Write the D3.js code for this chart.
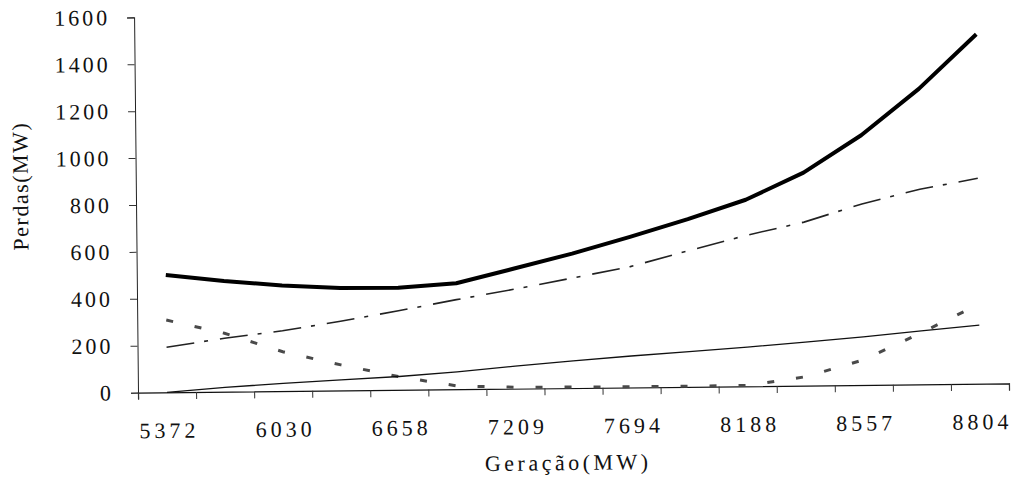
<!DOCTYPE html>
<html>
<head>
<meta charset="utf-8">
<script src="https://cdn.jsdelivr.net/npm/d3@7"></script>
<style>
  html, body { margin: 0; padding: 0; background: #fff; }
  svg { display: block; }
  svg text { font-family: "Liberation Serif" !important; }
</style>
</head>
<body>
<script>
// ---- data ----
const categories = [1, 2, 3, 4, 5, 6, 7, 8, 9, 10, 11, 12, 13, 14, 15];
const labeledCategories = [1, 3, 5, 7, 9, 11, 13, 15];
const tickLabels = ["5372", "6030", "6658", "7209", "7694", "8188", "8557", "8804"];
const yTicks = [0, 200, 400, 600, 800, 1000, 1200, 1400, 1600];

const perdasTotal      = [500, 472, 450, 437, 435, 452, 512, 573, 642, 715, 795, 908, 1065, 1260, 1490];
const perdasTracoPonto = [192, 228, 257, 295, 337, 382, 424, 469, 515, 580, 643, 697, 772, 832, 876];
const perdasTracejada  = [308, 249, 168, 109, 56, 14, 6, 4, 3, 3, 3, 38, 107, 220, 340];
const perdasFina       = [0, 18, 33, 45, 57, 74, 96, 116, 134, 150, 167, 185, 205, 228, 250];

// ---- layout ----
const FONT = "Liberation Serif";
const W = 1015, H = 486;
const ox = 138, oy = 392.6;          // plot origin (bottom-left)
const pw = 871, ph = 375.3;          // plot size

const svg = d3.select("body").append("svg").attr("width", W).attr("height", H)
  .attr("font-family", FONT);
const tilt = svg.append("g").attr("transform", `rotate(-0.6,${ox},${oy})`);
const g = tilt.append("g").attr("transform", `translate(${ox},${oy - ph})`);

const x = d3.scaleBand().domain(categories).range([0, pw]);
const xc = c => x(c) + x.bandwidth() / 2;
const xEdge = d3.scaleLinear().domain([0, categories.length]).range([0, pw]);
const y = d3.scaleLinear().domain([0, 1600]).range([ph, 0]);

function styleText(sel, size, spacing) {
  sel.attr("font-family", FONT)
     .style("font-size", size + "px")
     .style("letter-spacing", spacing + "px")
     .attr("fill", "#111");
}

// y axis
const yAxis = g.append("g").call(
  d3.axisLeft(y).tickValues(yTicks).tickSize(7).tickPadding(17).tickFormat(d3.format("d"))
);
yAxis.attr("font-family", FONT);
yAxis.select(".domain").attr("stroke", "#222").attr("stroke-width", 1);
yAxis.selectAll(".tick line").attr("stroke", "#333");
styleText(yAxis.selectAll("text"), 22, 3);

// x axis: ticks at category boundaries
const xAxis = g.append("g").attr("transform", `translate(0,${ph})`).call(
  d3.axisBottom(xEdge).tickValues(d3.range(categories.length + 1)).tickSize(7).tickFormat("")
);
xAxis.select(".domain").attr("stroke", "#111").attr("stroke-width", 1.2);
xAxis.selectAll(".tick line").attr("stroke", "#333");

// x labels at labeled categories
const labelMap = new Map(labeledCategories.map((c, i) => [c, tickLabels[i]]));
const xLab = g.append("g").attr("transform", `translate(0,${ph})`).call(
  d3.axisBottom(x).tickValues(labeledCategories).tickSize(0).tickPadding(30).tickFormat(c => labelMap.get(c))
);
xLab.attr("font-family", FONT);
xLab.select(".domain").remove();
styleText(xLab.selectAll("text"), 22, 4);
xLab.selectAll("text").attr("dx", "2px");

// axis titles
styleText(g.append("text")
  .attr("x", pw / 2 - 6).attr("y", ph + 82)
  .attr("text-anchor", "middle")
  .text("Geração(MW)"), 22, 3.5);

styleText(g.append("text")
  .attr("transform", `translate(${-108},${ph / 2 - 20}) rotate(-90)`)
  .attr("text-anchor", "middle")
  .text("Perdas(MW)"), 22, 1.5);

// lines
const line = d3.line().x((d, i) => xc(categories[i])).y(d => y(d));

g.append("path").datum(perdasTracejada)
  .attr("fill", "none").attr("stroke", "#4a4a4a").attr("stroke-width", 3)
  .attr("stroke-dasharray", "7,22").attr("d", line);

g.append("path").datum(perdasFina)
  .attr("fill", "none").attr("stroke", "#111").attr("stroke-width", 1.3)
  .attr("d", line);

g.append("path").datum(perdasTracoPonto)
  .attr("fill", "none").attr("stroke", "#222").attr("stroke-width", 1.6)
  .attr("stroke-dasharray", "28,10,4,12").attr("d", line);

g.append("path").datum(perdasTotal)
  .attr("fill", "none").attr("stroke", "#000").attr("stroke-width", 4)
  .attr("stroke-linejoin", "round").attr("d", line);
</script>
</body>
</html>
